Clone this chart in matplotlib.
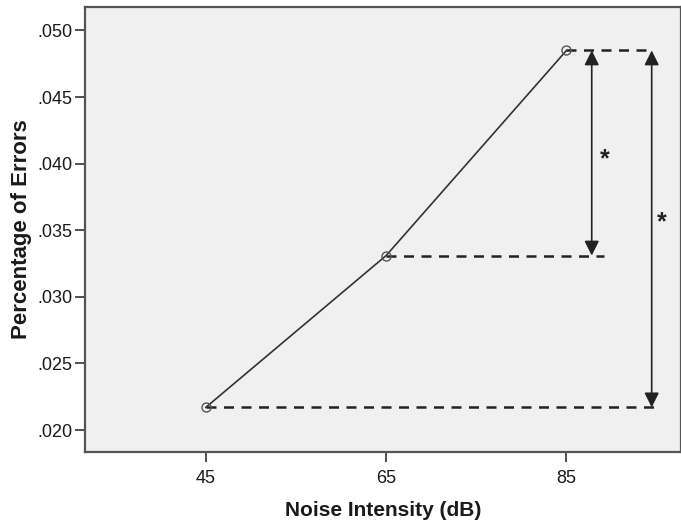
import matplotlib
matplotlib.use("Agg")
import matplotlib.pyplot as plt

# data
noise_db = [45, 65, 85]
error_pct = [0.0217, 0.0331, 0.0485]
y_ticks = [0.020, 0.025, 0.030, 0.035, 0.040, 0.045, 0.050]
y_tick_labels = [".020", ".025", ".030", ".035", ".040", ".045", ".050"]

# reference lines / significance brackets (data coords)
dash_ends = [94.8, 89.2, 94.0]          # where each dashed line stops
brackets = [(87.8, 1, 2), (94.45, 0, 2)]  # x, from-index, to-index
star_pos = [(89.2, 0.0403), (95.6, 0.0356)]

plt.rcParams['font.family'] = ['Liberation Sans', 'DejaVu Sans']

fig = plt.figure(figsize=(6.81, 5.25), dpi=100)
ax = fig.add_axes([0.1248, 0.1396, 0.8752, 0.8480])
ax.set_facecolor("#f0f0f0")

ax.plot(noise_db, error_pct, color="#333333", lw=1.2, marker="o", ms=6.5,
        mfc="none", mec="#555555", mew=1.0, zorder=3)

for x0, y0, xe in zip(noise_db, error_pct, dash_ends):
    ax.plot([x0, xe], [y0, y0], color="#222222", lw=1.8, ls=(0, (4, 3)), zorder=2)

for bx, i0, i1 in brackets:
    ax.annotate("", xy=(bx, error_pct[i0]), xytext=(bx, error_pct[i1]),
                arrowprops=dict(arrowstyle="<|-|>", color="#222222", lw=1.2,
                                mutation_scale=22, shrinkA=0, shrinkB=0))

for sx, sy in star_pos:
    ax.text(sx, sy, "*", fontsize=18, fontweight="bold", ha="center", va="center",
            color="#222222")

ax.set_xlim(31.6, 97.7)
ax.set_ylim(0.01837, 0.0518)
ax.set_xticks(noise_db)
ax.set_xticklabels([str(v) for v in noise_db])
ax.set_yticks(y_ticks)
ax.set_yticklabels(y_tick_labels)
ax.tick_params(direction="out", length=7, width=1.2, color="#333333",
               labelsize=13, labelcolor="#1a1a1a", pad=2)
ax.tick_params(axis="x", pad=6)

for side in ["left", "bottom", "top", "right"]:
    ax.spines[side].set_color("#555555")
    ax.spines[side].set_linewidth(1.6)

ax.set_xlabel("Noise Intensity (dB)", fontsize=15, fontweight="bold", color="#1a1a1a",
              labelpad=10)
ax.set_ylabel("Percentage of Errors", fontsize=16, fontweight="bold", color="#1a1a1a",
              labelpad=4)

fig.savefig("out.png", dpi=100)
